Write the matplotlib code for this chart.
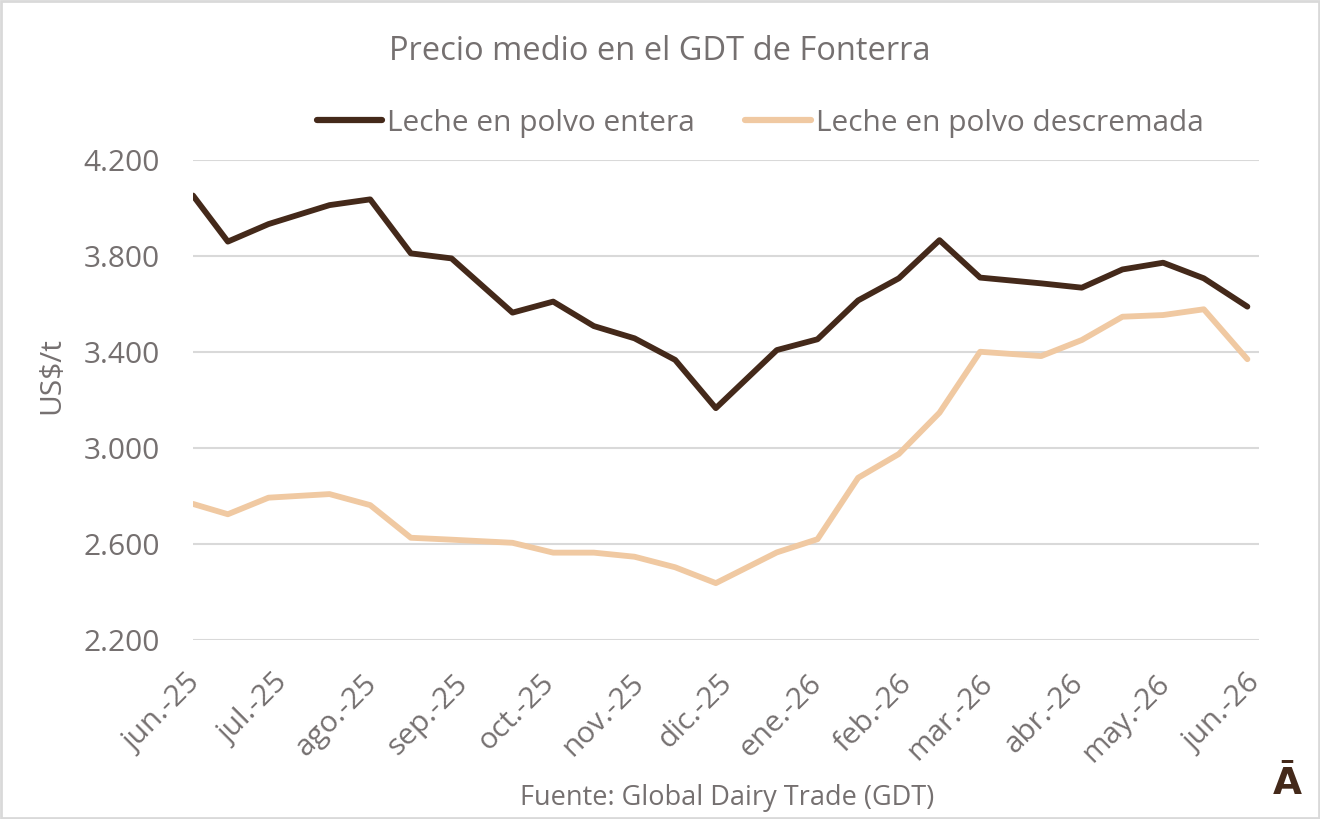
import matplotlib
matplotlib.use("Agg")
import matplotlib.pyplot as plt
import matplotlib.transforms as mtransforms
import pandas as pd
from matplotlib.patches import Rectangle
from matplotlib.lines import Line2D

# fechas de las subastas (lectura aproximada del eje)
dates = ['2025-06-01', '2025-06-13', '2025-06-27', '2025-07-18', '2025-08-01',
         '2025-08-15', '2025-08-29', '2025-09-19', '2025-10-03', '2025-10-17',
         '2025-10-31', '2025-11-14', '2025-11-28', '2025-12-19', '2026-01-02',
         '2026-01-16', '2026-01-30', '2026-02-13', '2026-02-27', '2026-03-20',
         '2026-04-03', '2026-04-17', '2026-05-01', '2026-05-15', '2026-05-30']

entera = [4052, 3860, 3933, 4012, 4036, 3811, 3790, 3564, 3610, 3508,
          3457, 3367, 3166, 3408, 3453, 3615, 3707, 3866, 3710, 3686,
          3668, 3744, 3772, 3707, 3589]

descremada = [2767, 2724, 2793, 2808, 2762, 2626, 2618, 2605, 2564, 2564,
              2547, 2503, 2437, 2565, 2620, 2876, 2975, 3147, 3401, 3383,
              3450, 3547, 3554, 3578, 3370]

month_ticks = pd.date_range('2025-06-01', '2026-06-01', freq='MS')
month_labels = ['jun.-25', 'jul.-25', 'ago.-25', 'sep.-25', 'oct.-25', 'nov.-25',
                'dic.-25', 'ene.-26', 'feb.-26', 'mar.-26', 'abr.-26', 'may.-26',
                'jun.-26']
y_ticks = [2200, 2600, 3000, 3400, 3800, 4200]

dark = '#44291a'
light = '#f0c9a2'
txt = '#757070'
grid = '#d9d9d9'

plt.rcParams['font.family'] = ['Open Sans', 'DejaVu Sans']

W, H = 1320, 819
fig = plt.figure(figsize=(W / 100, H / 100), dpi=100)
ax = fig.add_axes([193 / W, 1 - 640 / H, (1259 - 193) / W, 480 / H])

x = pd.to_datetime(dates)
ax.plot(x, entera, color=dark, lw=4.2, solid_capstyle='round', solid_joinstyle='round', zorder=3)
ax.plot(x, descremada, color=light, lw=4.2, solid_capstyle='round', solid_joinstyle='round', zorder=2)

ax.set_ylim(2200, 4200)
ax.set_xlim(pd.Timestamp('2025-06-01'), pd.Timestamp('2026-06-03'))
ax.set_yticks(y_ticks)
ax.set_yticklabels(['{:,}'.format(v).replace(',', '.') for v in y_ticks])
ax.set_xticks(month_ticks)
ax.set_xticklabels(month_labels, rotation=45, ha='right', va='center', rotation_mode='anchor')

ax.grid(axis='y', color=grid, lw=1.5)
ax.set_axisbelow(True)
for s in ax.spines.values():
    s.set_visible(False)
ax.tick_params(axis='both', length=0, labelsize=21.5, colors=txt)
ax.tick_params(axis='x', pad=28)
ax.tick_params(axis='y', pad=24)

# pequeño desplazamiento a la derecha de las etiquetas giradas
shift = mtransforms.ScaledTranslation(3 / 100, 0, fig.dpi_scale_trans)
for lab in ax.get_xticklabels():
    lab.set_transform(lab.get_transform() + shift)

fig.text(52 / W, 1 - 376 / H, 'US$/t', fontsize=21.5, color=txt, rotation=90,
         ha='center', va='center')

fig.text(660 / W, 1 - 60 / H, 'Precio medio en el GDT de Fonterra', fontsize=23.5,
         color=txt, ha='center', va='baseline')

handles = [Line2D([], [], color=dark, lw=4.5, solid_capstyle='round'),
           Line2D([], [], color=light, lw=4.5, solid_capstyle='round')]
fig.legend(handles, ['Leche en polvo entera', 'Leche en polvo descremada'],
           loc='center', bbox_to_anchor=(760 / W, 1 - 123 / H), ncol=2,
           frameon=False, fontsize=21.5, handlelength=2.2, handletextpad=0.17,
           columnspacing=1.67, labelcolor=txt, borderpad=0, borderaxespad=0)

fig.text(727 / W, 1 - 805 / H, 'Fuente: Global Dairy Trade (GDT)', fontsize=19.5,
         color=txt, ha='center', va='baseline')

fig.text(1287 / W, 1 - 794 / H, 'Ā', fontsize=27, fontweight='bold',
         color=dark, ha='center', va='baseline', family=['Liberation Sans Narrow', 'DejaVu Sans'])

fig.patches.append(Rectangle((0.001, 0.001), 0.998, 0.998, transform=fig.transFigure,
                             fill=False, edgecolor=grid, lw=2))

fig.savefig('out.png', dpi=100)
